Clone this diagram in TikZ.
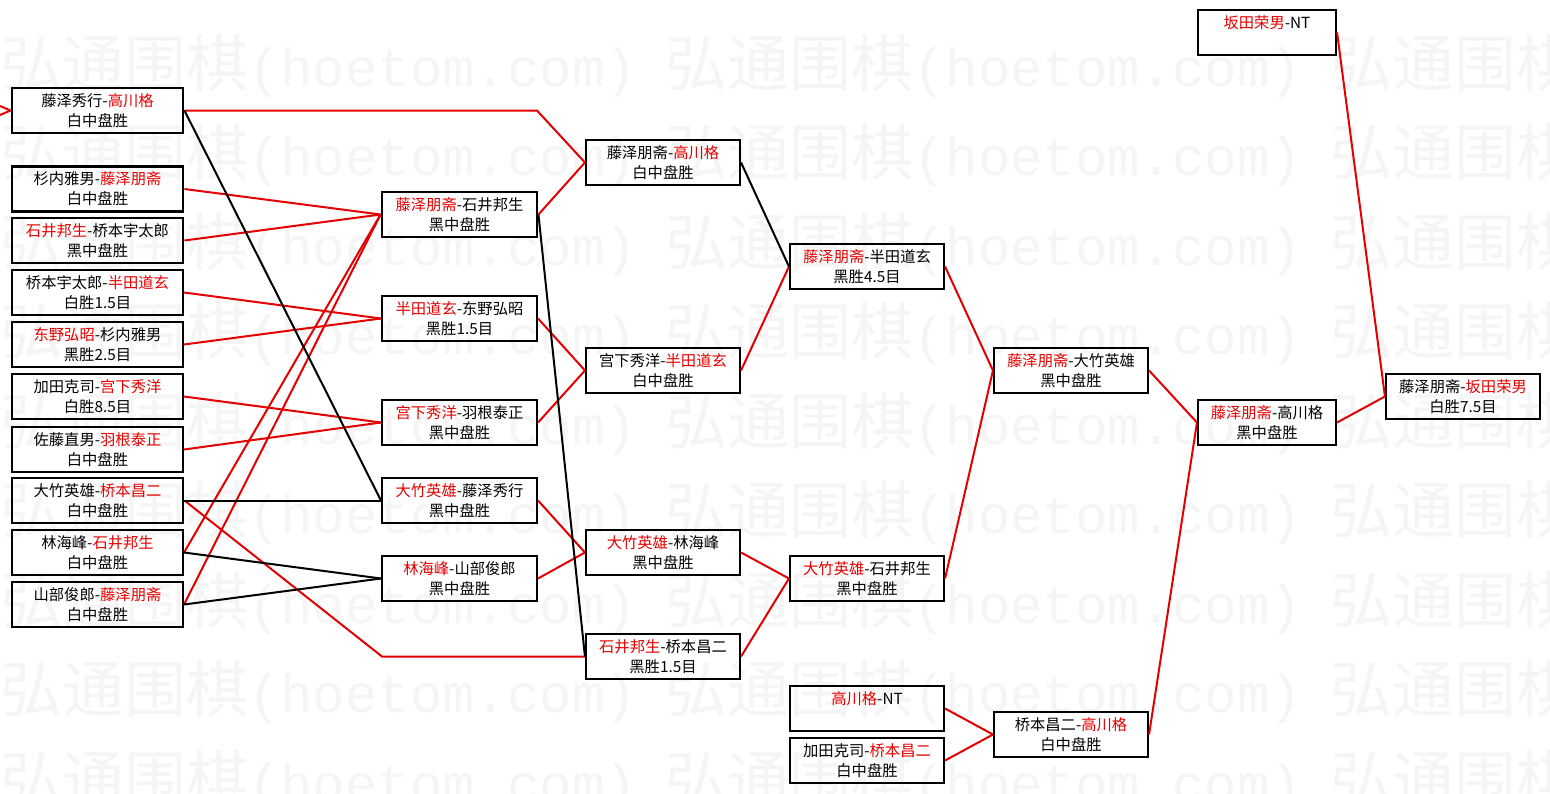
\documentclass[tikz,border=0pt]{standalone}
\usepackage{fontspec}
\setmainfont{Noto Sans CJK SC}
\newfontfamily\marcamono{Liberation Mono}
\usepackage{xcolor}
\usepackage{tikz}
\definecolor{rojo}{RGB}{228,0,0}
\definecolor{grismarca}{RGB}{245,245,245}
\newcommand{\gana}[1]{\textcolor{rojo}{#1}}
\tikzset{
	partida/.style={draw=black,line width=2.1pt,minimum width=#1,minimum height=45pt,
		inner sep=0pt,align=center,font=\fontsize{15.3}{20}\selectfont},
	gruesa/.style={line width=2.9pt},
	marca/.style={anchor=west,inner sep=0pt,text=grismarca,font=\fontsize{62}{62}\selectfont},
	ganador/.style={draw=rojo,line width=2pt},
	perdedor/.style={draw=black,line width=2pt}
}

\begin{document}
\begin{tikzpicture}[x=1pt,y=-1pt]
			\useasboundingbox (0,0) rectangle (1550,793);
			% marca de agua
			\foreach \fila in {0,...,8}{
				\foreach \col in {0,665,1330}{
					\node[marca] (m-\fila-\col) at (\col,66+89.5*\fila)
						{弘通围棋{\marcamono\fontsize{54}{62}\selectfont(hoetom.com)}};
				}
			}
			% primera columna
			\node[partida=171pt,gruesa] (c1-1) at (97.5,110.5) {藤泽秀行-\gana{高川格}\\白中盘胜};
			\node[partida=171pt,gruesa] (c1-2) at (97.5,189) {杉内雅男-\gana{藤泽朋斋}\\白中盘胜};
			\node[partida=171pt,gruesa] (c1-3) at (97.5,240.5) {\gana{石井邦生}-桥本宇太郎\\黑中盘胜};
			\node[partida=171pt] (c1-4) at (97.5,292.5) {桥本宇太郎-\gana{半田道玄}\\白胜1.5目};
			\node[partida=171pt] (c1-5) at (97.5,344.5) {\gana{东野弘昭}-杉内雅男\\黑胜2.5目};
			\node[partida=171pt] (c1-6) at (97.5,396.5) {加田克司-\gana{宫下秀洋}\\白胜8.5目};
			\node[partida=171pt] (c1-7) at (97.5,449.5) {佐藤直男-\gana{羽根泰正}\\白中盘胜};
			\node[partida=171pt,gruesa] (c1-8) at (97.5,500.5) {大竹英雄-\gana{桥本昌二}\\白中盘胜};
			\node[partida=171pt] (c1-9) at (97.5,552.5) {林海峰-\gana{石井邦生}\\白中盘胜};
			\node[partida=171pt] (c1-10) at (97.5,604.5) {山部俊郎-\gana{藤泽朋斋}\\白中盘胜};
			% segunda columna
			\node[partida=155pt,gruesa] (c2-1) at (459.5,214.5) {\gana{藤泽朋斋}-石井邦生\\黑中盘胜};
			\node[partida=155pt] (c2-2) at (459.5,318.5) {\gana{半田道玄}-东野弘昭\\黑胜1.5目};
			\node[partida=155pt] (c2-3) at (459.5,422.5) {\gana{宫下秀洋}-羽根泰正\\黑中盘胜};
			\node[partida=155pt] (c2-4) at (459.5,500.5) {\gana{大竹英雄}-藤泽秀行\\黑中盘胜};
			\node[partida=155pt] (c2-5) at (459.5,578.5) {\gana{林海峰}-山部俊郎\\黑中盘胜};
			% tercera columna
			\node[partida=154pt] (c3-1) at (663,162.5) {藤泽朋斋-\gana{高川格}\\白中盘胜};
			\node[partida=154pt] (c3-2) at (663,370.5) {宫下秀洋-\gana{半田道玄}\\白中盘胜};
			\node[partida=154pt] (c3-3) at (663,552.5) {\gana{大竹英雄}-林海峰\\黑中盘胜};
			\node[partida=154pt] (c3-4) at (663,656.5) {\gana{石井邦生}-桥本昌二\\黑胜1.5目};
			% cuarta columna
			\node[partida=154pt] (c4-1) at (867,266.5) {\gana{藤泽朋斋}-半田道玄\\黑胜4.5目};
			\node[partida=154pt] (c4-2) at (867,578.5) {\gana{大竹英雄}-石井邦生\\黑中盘胜};
			\node[partida=154pt] (c4-3) at (867,708.5) {\gana{高川格}-NT\\\phantom{白}};
			\node[partida=154pt] (c4-4) at (867,760.5) {加田克司-\gana{桥本昌二}\\白中盘胜};
			% quinta a septima columna
			\node[partida=154pt] (c5-1) at (1071,370.5) {\gana{藤泽朋斋}-大竹英雄\\黑中盘胜};
			\node[partida=154pt] (c5-2) at (1071,734.5) {桥本昌二-\gana{高川格}\\白中盘胜};
			\node[partida=138pt] (c6-1) at (1267,32.5) {\gana{坂田荣男}-NT\\\phantom{白}};
			\node[partida=138pt] (c6-2) at (1267,422.5) {\gana{藤泽朋斋}-高川格\\黑中盘胜};
			\node[partida=154pt] (c7-1) at (1463,396.5) {藤泽朋斋-\gana{坂田荣男}\\白胜7.5目};
			% puntos de paso
			\coordinate (fuera1) at (0,106);
			\coordinate (fuera2) at (0,115);
			\coordinate (codo1) at (537,110.5);
			\coordinate (codo2) at (382,656.5);
			% conexiones
			\draw[ganador] (fuera1) -- (c1-1.west);
			\draw[ganador] (fuera2) -- (c1-1.west);
			\draw[ganador] (c1-1.east) -- (codo1) -- (c3-1.west);
			\draw[ganador] (c1-8.east) -- (codo2) -- (c3-4.west);
			\foreach \a/\b in {c1-2/c2-1,c1-3/c2-1,c1-9/c2-1,c1-10/c2-1,c1-4/c2-2,c1-5/c2-2,
				c1-6/c2-3,c1-7/c2-3,c2-1/c3-1,c2-2/c3-2,c2-3/c3-2,c2-4/c3-3,c2-5/c3-3,
				c3-2/c4-1,c3-3/c4-2,c3-4/c4-2,c4-1/c5-1,c4-2/c5-1,c4-3/c5-2,c4-4/c5-2,
				c5-1/c6-2,c5-2/c6-2,c6-1/c7-1,c6-2/c7-1}
				\draw[ganador] (\a.east) -- (\b.west);
			\foreach \a/\b in {c1-1/c2-4,c1-8/c2-4,c1-9/c2-5,c1-10/c2-5,c2-1/c3-4,c3-1/c4-1}
				\draw[perdedor] (\a.east) -- (\b.west);
		\end{tikzpicture}
\end{document}
